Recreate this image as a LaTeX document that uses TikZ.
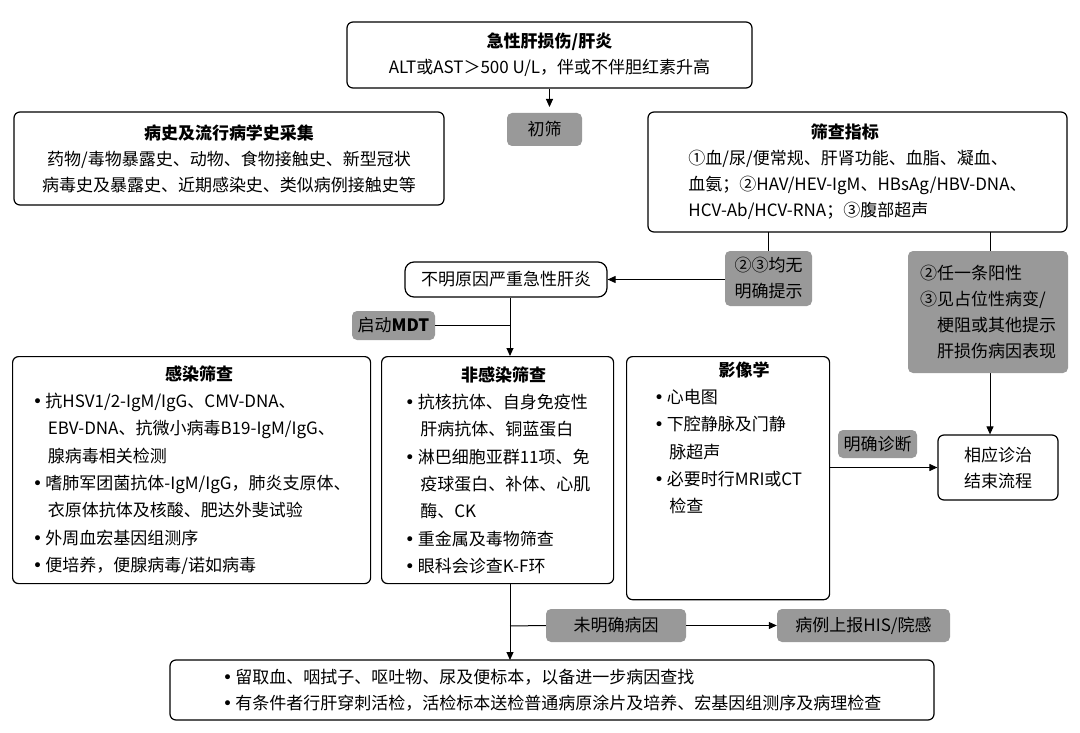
\documentclass[tikz,border=0pt]{standalone}
\usepackage{fontspec}
\setmainfont{Noto Sans CJK SC}
\newfontfamily\djv{DejaVu Sans}
\newcommand{\bul}{{\djv •}\,}
\usetikzlibrary{arrows.meta}
\begin{document}
\begin{tikzpicture}[x=1pt,y=-1pt,
  box/.style={draw=black,line width=1.2pt,rounded corners=6pt,fill=white,font=\fontsize{17}{26}\selectfont},
  tag/.style={fill=black!40,rounded corners=5pt,inner sep=4pt,font=\fontsize{17}{26}\selectfont,align=center},
  lst/.style={box,anchor=north west,align=left,font=\fontsize{17}{27.3}\selectfont,inner sep=5pt},
  arr/.style={line width=1pt,-{Triangle[length=8pt,width=7pt]}},
  ln/.style={line width=1pt}]
\useasboundingbox (0,0) rectangle (1080,733);
% top
\node[box,minimum width=405pt,minimum height=66pt,align=center] (top) at (549.5,55) {\textbf{急性肝损伤/肝炎}\\ALT或AST＞500 U/L，伴或不伴胆红素升高};
\coordinate (topa) at (549.5,107);
\draw[arr] (top.south) -- (topa);
\node[tag,minimum width=75pt,minimum height=33pt] (cs) at (544.5,129.5) {初筛};
\node[box,minimum width=430pt,minimum height=93pt,align=center] (hist) at (229,158.5) {\textbf{病史及流行病学史采集}\\药物/毒物暴露史、动物、食物接触史、新型冠状\\病毒史及暴露史、近期感染史、类似病例接触史等};
\node[box,minimum width=419pt,minimum height=120pt,align=left] (scr) at (857.5,172) {\hspace*{7.2em}\textbf{筛查指标}\\ ①血/尿/便常规、肝肾功能、血脂、凝血、\\血氨；②HAV/HEV-IgM、HBsAg/HBV-DNA、\\HCV-Ab/HCV-RNA；③腹部超声};
\node[box,minimum width=202pt,minimum height=35pt,rounded corners=9pt] (unk) at (506,279.5) {不明原因严重急性肝炎};
\coordinate (c1) at (768,232); \coordinate (c1b) at (768,279.5);
\draw[ln] (c1) -- (c1b); \draw[arr] (c1b) -- (unk.east);
\node[tag,minimum width=87pt,minimum height=55pt] (t23) at (768.5,278.5) {②③均无\\明确提示};
\node[box,minimum width=120pt,minimum height=65pt,align=center] (end) at (998,467.5) {相应诊治\\结束流程};
\coordinate (c2) at (990,232);
\draw[arr] (c2) -- (c2|-end.north);
\node[tag,minimum width=160pt,minimum height=122pt,align=left] (tpos) at (988,312) {②任一条阳性\\③见占位性病变/\\\hspace*{1em}梗阻或其他提示\\\hspace*{1em}肝损伤病因表现};
% middle
\node[lst,minimum width=358pt,minimum height=227pt] (inf) at (12,356) {\hspace*{7.8em}\textbf{感染筛查}\\\bul 抗HSV1/2-IgM/IgG、CMV-DNA、\\\hspace*{0.9em}EBV-DNA、抗微小病毒B19-IgM/IgG、\\\hspace*{0.9em}腺病毒相关检测\\\bul 嗜肺军团菌抗体-IgM/IgG，肺炎支原体、\\\hspace*{0.9em}衣原体抗体及核酸、肥达外斐试验\\\bul 外周血宏基因组测序\\\bul 便培养，便腺病毒/诺如病毒};
\node[lst,minimum width=232pt,minimum height=227pt] (non) at (381,356) {\hspace*{3.3em}\textbf{非感染筛查}\\\bul 抗核抗体、自身免疫性\\\hspace*{0.9em}肝病抗体、铜蓝蛋白\\\bul 淋巴细胞亚群11项、免\\\hspace*{0.9em}疫球蛋白、补体、心肌\\\hspace*{0.9em}酶、CK\\\bul 重金属及毒物筛查\\\bul 眼科会诊查K-F环};
\node[lst,minimum width=203pt,minimum height=227pt] (img) at (626,356) {\hspace*{3.8em}\textbf{影像学}\\\bul 心电图\\\bul 下腔静脉及门静\\\hspace*{0.9em}脉超声\\\bul 必要时行MRI或CT\\\hspace*{0.9em}检查\\\\\\};
\coordinate (v1) at (510,297.5); \coordinate (v2) at (510,356);
\draw[arr] (v1) -- (v2);
\node[tag,minimum width=83pt,minimum height=29pt] (mdt) at (393.5,325.5) {启动\textbf{MDT}};
\coordinate (mj) at (510,325.5);
\draw[ln] (mdt.east) -- (mj);
\draw[arr] (img.east|-end.west) -- (end.west);
\node[tag,minimum width=79pt,minimum height=28pt] (md) at (877.5,444) {明确诊断};
% bottom
\node[box,minimum width=764pt,minimum height=60pt,align=left] (bot) at (552,690) {\bul 留取血、咽拭子、呕吐物、尿及便标本，以备进一步病因查找\\\bul 有条件者行肝穿刺活检，活检标本送检普通病原涂片及培养、宏基因组测序及病理检查};
\coordinate (bj) at (510,626); \coordinate (b1) at (510,583); \coordinate (b2) at (510,660);
\draw[arr] (b1) -- (b2);
\node[tag,minimum width=140pt,minimum height=33pt] (wm) at (616,625.5) {未明确病因};
\node[tag,minimum width=173pt,minimum height=33pt] (his) at (863.5,625.5) {病例上报HIS/院感};
\draw[ln] (bj) -- (wm.west);
\draw[arr] (wm.east) -- (his.west);
\end{tikzpicture}
\end{document}
